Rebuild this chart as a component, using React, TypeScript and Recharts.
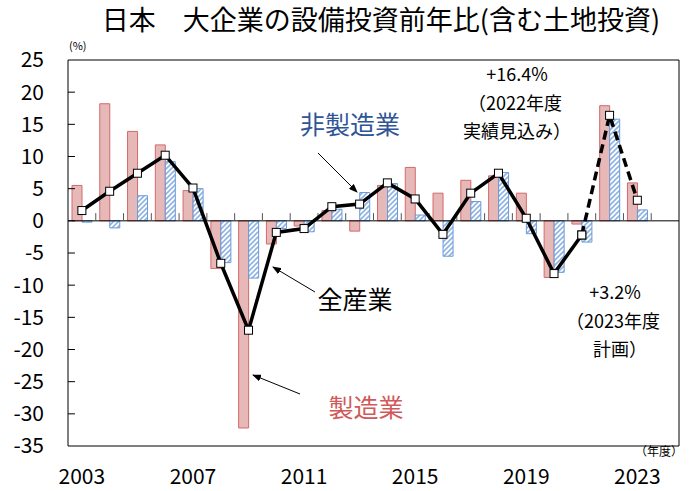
import React from 'react';
import {
  ComposedChart, Bar, Line, XAxis, YAxis, ReferenceLine, ReferenceArea,
} from 'recharts';

const years = [2003, 2004, 2005, 2006, 2007, 2008, 2009, 2010, 2011, 2012, 2013, 2014, 2015, 2016, 2017, 2018, 2019, 2020, 2021, 2022, 2023];
const manufacturing = [5.5, 18.2, 13.9, 11.8, 4.7, -7.4, -32.2, -3.6, -0.8, 1.6, -1.6, 5.5, 8.3, 4.3, 6.3, 7.0, 4.3, -8.8, -0.5, 17.9, 5.9];
const nonManufacturing = [-0.2, -1.1, 3.9, 9.2, 5.0, -6.5, -8.9, -1.2, -1.7, 1.8, 4.4, 5.8, 0.9, -5.5, 3.0, 7.5, -2.0, -8.0, -3.3, 15.8, 1.7];
const allIndustries = [1.6, 4.6, 7.4, 10.2, 5.1, -6.6, -17.0, -1.8, -1.2, 2.2, 2.6, 5.9, 3.4, -2.1, 4.3, 7.4, 0.4, -8.2, -2.2, 16.4, 3.2];
const firstForecastYear = 2021;

const xTicks = [2003, 2007, 2011, 2015, 2019, 2023];
const yTicks = [25, 20, 15, 10, 5, 0, -5, -10, -15, -20, -25, -30, -35];
const xDomain: [number, number] = [2002.5, 2024.5];

const data = years.map((y, i) => ({
  year: y,
  mfg: manufacturing[i],
  nonMfg: nonManufacturing[i],
  actual: y <= firstForecastYear ? allIndustries[i] : null,
  forecast: y >= firstForecastYear ? allIndustries[i] : null,
}));

const FONT = '"Noto Sans CJK JP", "Noto Sans", sans-serif';

const SquareDot = (props: any) => {
  const { cx, cy, value, index } = props;
  if (cx == null || cy == null || value == null) return <g key={`d${index}`} />;
  return <rect key={`d${index}`} x={cx - 4} y={cy - 4} width={8} height={8} fill="#fff" stroke="#000" strokeWidth={1} />;
};

export default function App() {
  return (
    <div style={{ position: 'absolute', left: 0, top: 0, width: 693, height: 491, background: '#fff', fontFamily: FONT }}>
      <svg width={0} height={0} style={{ position: 'absolute' }}>
        <defs>
          <pattern id="hatch" patternUnits="userSpaceOnUse" width={5} height={5}>
            <rect width={5} height={5} fill="#fff" />
            <path d="M-1,1 l2,-2 M0,5 l5,-5 M4,6 l2,-2" stroke="#8fb4e3" strokeWidth={1.6} />
          </pattern>
        </defs>
      </svg>
      <ComposedChart
        width={693}
        height={491}
        data={data}
        margin={{ top: 60, right: 14, bottom: 0, left: 0 }}
        barGap={0}
      >
        <XAxis
          dataKey="year"
          type="number"
          domain={xDomain}
          ticks={xTicks}
          interval={0}
          axisLine={false}
          tickLine={false}
          height={45}
          tickMargin={17}
          tick={{ fill: '#000', fontSize: 21, fontFamily: FONT }}
          allowDataOverflow
        />
        <YAxis
          domain={[-35, 25]}
          ticks={yTicks}
          interval={0}
          width={68}
          axisLine={false}
          tickLine={false}
          tickMargin={18}
          tick={{ fill: '#000', fontSize: 21, fontFamily: FONT }}
          allowDataOverflow
        />
        <ReferenceArea x1={xDomain[0]} x2={xDomain[1]} y1={-35} y2={25} fill="none" stroke="#000" strokeWidth={1} />
        <Bar dataKey="mfg" barSize={10} fill="#e6b8b7" stroke="#d46a6a" strokeWidth={1} isAnimationActive={false} />
        <Bar dataKey="nonMfg" barSize={10} fill="url(#hatch)" stroke="#6b9ad8" strokeWidth={1} isAnimationActive={false} />
        <ReferenceLine y={0} stroke="#000" strokeWidth={1} />
        {years.map((y) => (
          <ReferenceLine key={`xt${y}`} segment={[{ x: y + 0.5, y: 0 }, { x: y + 0.5, y: 1.2 }]} stroke="#555" strokeWidth={1} />
        ))}
        {yTicks.slice(1, -1).map((t) => (
          <ReferenceLine key={`yt${t}`} segment={[{ x: xDomain[0], y: t }, { x: xDomain[0] + 0.25, y: t }]} stroke="#000" strokeWidth={1} />
        ))}
        <Line dataKey="actual" stroke="#000" strokeWidth={3.5} dot={SquareDot} activeDot={false} connectNulls={false} isAnimationActive={false} />
        <Line dataKey="forecast" stroke="#000" strokeWidth={3.5} strokeDasharray="9 5" dot={SquareDot} activeDot={false} connectNulls={false} isAnimationActive={false} />
      </ComposedChart>
      <svg width={693} height={491} style={{ position: 'absolute', left: 0, top: 0, pointerEvents: 'none' }} fontFamily={FONT}>
        <defs>
          <marker id="arr" markerWidth={9} markerHeight={7} refX={8} refY={3.5} orient="auto" markerUnits="userSpaceOnUse">
            <path d="M0,0 L9,3.5 L0,7 Z" fill="#000" />
          </marker>
        </defs>
        <text x={381} y={30} textAnchor="middle" fontSize={27} fill="#000">日本　大企業の設備投資前年比(含む土地投資)</text>
        <text x={69} y={50} fontSize={11} fill="#000">(%)</text>
        <text x={683} y={456} textAnchor="end" fontSize={12} fill="#000">（年度）</text>

        <text x={350} y={134} textAnchor="middle" fontSize={25} fill="#2f5597">非製造業</text>
        <line x1={318} y1={153} x2={357} y2={192} stroke="#000" strokeWidth={1} markerEnd="url(#arr)" />

        <text x={355} y={309} textAnchor="middle" fontSize={25} fill="#000">全産業</text>
        <line x1={315} y1={292} x2={273} y2={267} stroke="#000" strokeWidth={1} markerEnd="url(#arr)" />

        <text x={366} y={417} textAnchor="middle" fontSize={25} fill="#d05a5a">製造業</text>
        <line x1={300} y1={394} x2={253} y2={375} stroke="#000" strokeWidth={1} markerEnd="url(#arr)" />

        <text x={517} y={81} textAnchor="middle" fontSize={18} fill="#000">+16.4%</text>
        <text x={515} y={110} textAnchor="middle" fontSize={18} fill="#000">（2022年度</text>
        <text x={517} y={138} textAnchor="middle" fontSize={18} fill="#000">実績見込み）</text>

        <text x={615} y={299} textAnchor="middle" fontSize={18} fill="#000">+3.2%</text>
        <text x={613} y={328} textAnchor="middle" fontSize={18} fill="#000">（2023年度</text>
        <text x={620} y={356} textAnchor="middle" fontSize={18} fill="#000">計画）</text>
      </svg>
    </div>
  );
}
